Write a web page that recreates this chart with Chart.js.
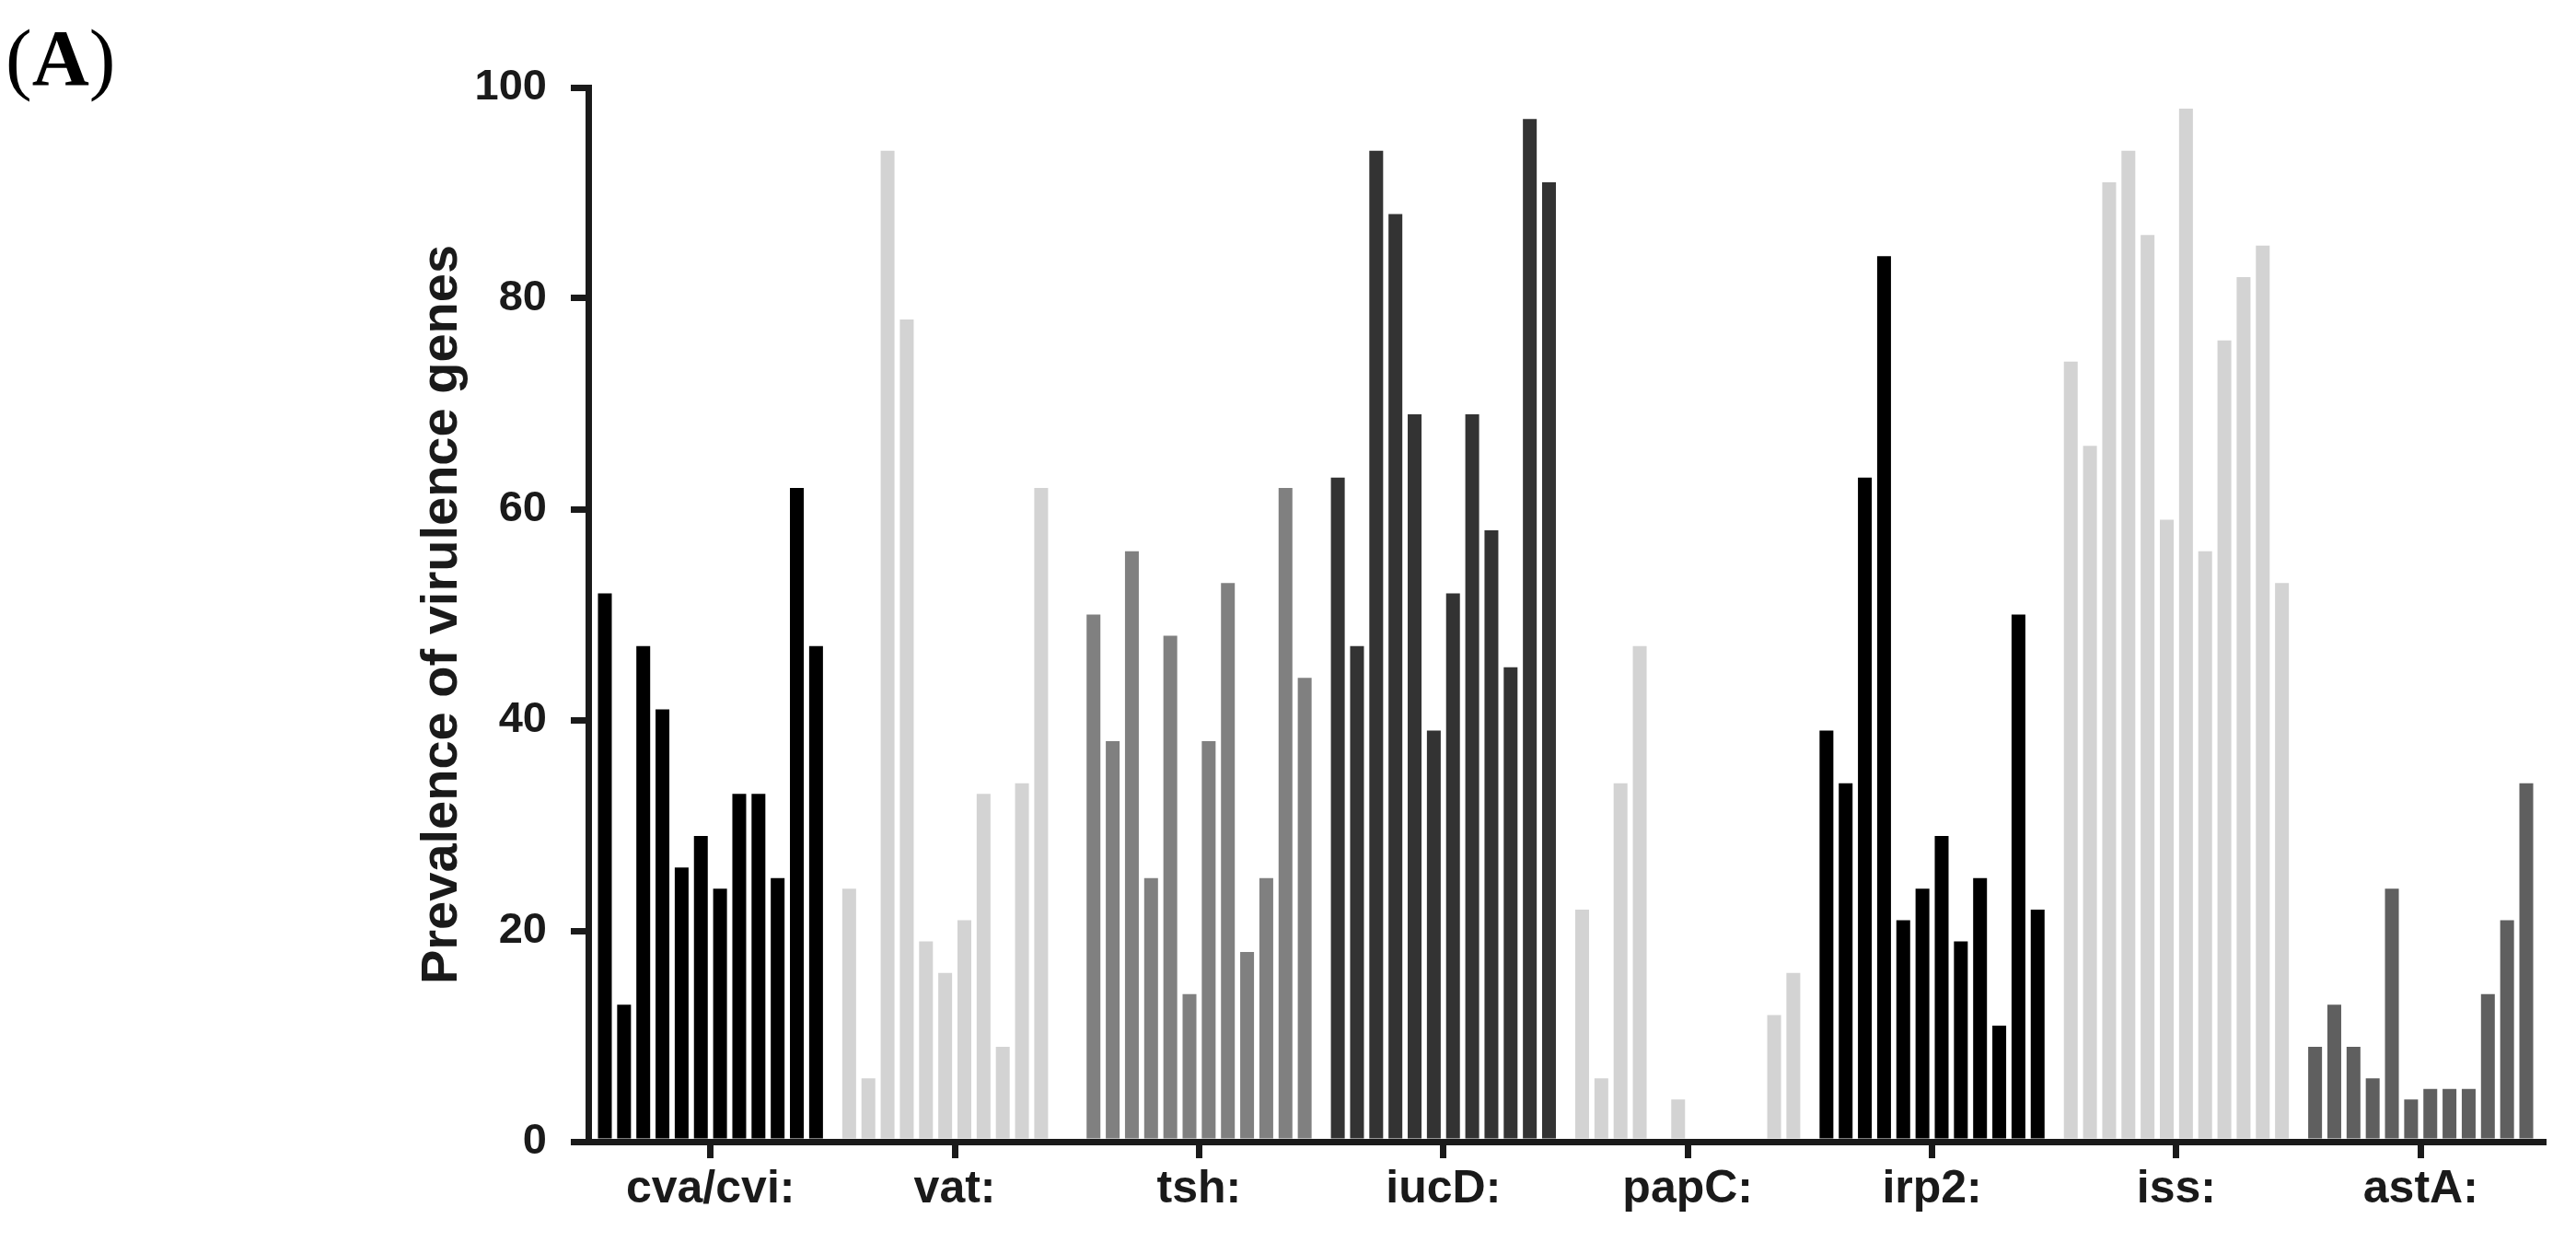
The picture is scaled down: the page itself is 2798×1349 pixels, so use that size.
<!DOCTYPE html>
<html>
<head>
<meta charset="utf-8">
<title>Prevalence of virulence genes</title>
<script src="https://cdn.jsdelivr.net/npm/chart.js@4.4.1/dist/chart.umd.min.js"></script>
<style>
    html, body { margin: 0; padding: 0; background: #ffffff; }
    #wrap { position: relative; width: 2798px; height: 1349px; }
</style>
</head>
<body>
<div id="wrap"><canvas id="virulenceChart" width="2798" height="1349"></canvas></div>
<script>
// Gene groups on the x axis
const genes = ['cva/cvi:', 'vat:', 'tsh:', 'iucD:', 'papC:', 'irp2:', 'iss:', 'astA:'];

// Prevalence (%) per gene, 12 bars each
const cvaCvi = [52, 13, 47, 41, 26, 29, 24, 33, 33, 25, 62, 47];
const vat    = [24, 6, 94, 78, 19, 16, 21, 33, 9, 34, 62, 0];
const tsh    = [50, 38, 56, 25, 48, 14, 38, 53, 18, 25, 62, 44];
const iucD   = [63, 47, 94, 88, 69, 39, 52, 69, 58, 45, 97, 91];
const papC   = [22, 6, 34, 47, 0, 4, 0, 0, 0, 0, 12, 16];
const irp2   = [39, 34, 63, 84, 21, 24, 29, 19, 25, 11, 50, 22];
const iss    = [74, 66, 91, 94, 86, 59, 98, 56, 76, 82, 85, 53];
const astA   = [9, 13, 9, 6, 24, 4, 5, 5, 5, 14, 21, 34];

// y axis ticks
const yTicks = [0, 20, 40, 60, 80, 100];

// one colour per gene group
const geneColors = ['#000000', '#d3d3d3', '#808080', '#333333', '#d3d3d3', '#000000', '#d3d3d3', '#5f5f5f'];

document.addEventListener('DOMContentLoaded', function() {
    const canvas = document.getElementById('virulenceChart');
    const ctx = canvas.getContext('2d');

    const rows = [cvaCvi, vat, tsh, iucD, papC, irp2, iss, astA];
    const axisColor = '#1a1a1a';

    Chart.defaults.font.family = "'Liberation Sans', Arial, Helvetica, sans-serif";
    Chart.defaults.color = axisColor;

    // 12 bars per group -> 12 datasets, each taking its i-th value from every gene
    const datasets = [];
    for (let i = 0; i < 12; i++) {
        datasets.push({
            label: 'Isolate ' + (i + 1),
            data: rows.map(r => r[i]),
            backgroundColor: geneColors,
            borderWidth: 0,
            categoryPercentage: 0.943,
            barPercentage: 0.72
        });
    }

    // panel letter "(A)" - parentheses regular, letter bold
    const panelLabel = {
        id: 'panelLabel',
        afterDraw(chart) {
            const c = chart.ctx;
            const serif = "'Liberation Serif', 'Times New Roman', serif";
            c.save();
            c.fillStyle = '#000000';
            c.textAlign = 'left';
            c.textBaseline = 'alphabetic';
            let x = 6;
            c.font = '86px ' + serif;
            c.fillText('(', x, 92);
            x += c.measureText('(').width;
            c.font = 'bold 86px ' + serif;
            c.fillText('A', x, 92);
            x += c.measureText('A').width;
            c.font = '86px ' + serif;
            c.fillText(')', x, 92);
            c.restore();
        }
    };

    new Chart(ctx, {
        type: 'bar',
        data: { labels: genes, datasets: datasets },
        options: {
            responsive: false,
            animation: false,
            events: [],
            layout: { padding: { left: 0, right: 36, top: 95, bottom: 0 } },
            plugins: {
                legend: { display: false },
                tooltip: { enabled: false }
            },
            scales: {
                x: {
                    z: 1,
                    offset: true,
                    afterFit: function(s) { s.height = 1349 - 1240; },
                    border: { display: true, color: axisColor, width: 7 },
                    grid: {
                        display: true,
                        drawOnChartArea: false,
                        drawTicks: true,
                        offset: false,
                        tickLength: 18,
                        lineWidth: 7,
                        color: axisColor
                    },
                    ticks: {
                        color: axisColor,
                        padding: 4,
                        maxRotation: 0,
                        autoSkip: false,
                        font: { size: 50, weight: 'bold' }
                    }
                },
                y: {
                    z: 1,
                    min: 0,
                    max: 100,
                    afterFit: function(s) { s.width = 639; },
                    afterBuildTicks: function(s) {
                        s.ticks = yTicks.map(v => ({ value: v }));
                    },
                    border: { display: true, color: axisColor, width: 7 },
                    grid: {
                        display: true,
                        drawOnChartArea: false,
                        drawTicks: true,
                        tickLength: 19,
                        lineWidth: 7,
                        color: axisColor
                    },
                    ticks: {
                        color: axisColor,
                        padding: 26,
                        font: { size: 47, weight: 'bold' }
                    },
                    title: {
                        display: true,
                        text: 'Prevalence of virulence genes',
                        color: axisColor,
                        padding: { top: 447, bottom: 0 },
                        font: { size: 56, weight: 'bold' }
                    }
                }
            }
        },
        plugins: [panelLabel]
    });
});
</script>
</body>
</html>
